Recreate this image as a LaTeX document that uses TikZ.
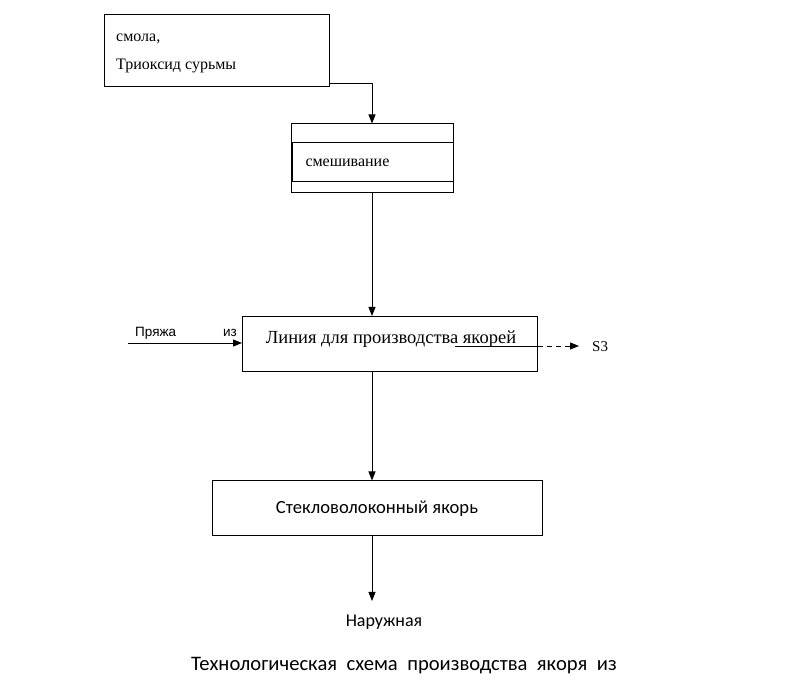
\documentclass[tikz,border=0pt]{standalone}
\usepackage{fontspec}
\setmainfont{Liberation Serif}
\newfontfamily\calib{Carlito}
\newfontfamily\arialf{Liberation Sans}
\usepackage{tikz}
\usetikzlibrary{positioning, calc, arrows.meta}

\tikzset{
  blk/.style={draw, line width=1pt, inner sep=0pt},
  flow/.style={line width=0.9pt, -{Triangle[length=9pt,width=7pt]}},
  lbl/.style={inner sep=0pt, anchor=base west}
}

\begin{document}
\begin{tikzpicture}[x=1pt, y=-1pt]
      \useasboundingbox (0,0) rectangle (812,692);
      % upper box: raw materials
      \node[blk, minimum width=225pt, minimum height=72pt] (resin) at (216.5,51) {};
      \node[lbl, font=\fontsize{16}{19}\selectfont] (resin1) at (116,42) {смола,};
      \node[lbl, font=\fontsize{16}{19}\selectfont] (resin2) at (116,70) {Триоксид сурьмы};
      % mixing
      \node[blk, minimum width=162pt, minimum height=69pt] (mix) at (372,158.5) {};
      \node[blk, minimum width=161pt, minimum height=39pt, anchor=west, align=left,
            inner xsep=13pt, text width=135pt, font=\fontsize{16}{19}\selectfont] (mixtxt) at (292,162.5) {смешивание};
      % line
      \node[blk, minimum width=295pt, minimum height=55pt] (line) at (390,344) {};
      \node[inner sep=0pt, anchor=base, font=\fontsize{18.5}{22}\selectfont] (linetxt) at (391,344) {Линия для производства якорей};
      % anchor
      \node[blk, minimum width=330pt, minimum height=55pt, font=\calib\fontsize{18.6}{22}\selectfont] (anchor) at (377,508.5) {Стекловолоконный якорь};
      \node[inner sep=0pt, font=\calib\fontsize{18}{21}\selectfont] (outer) at (384,622) {Наружная};
      \node[inner sep=0pt, font=\calib\fontsize{20.6}{24}\selectfont] (caption) at (404,666)
        {Технологическая\hspace{9.5pt}схема\hspace{9.5pt}производства\hspace{9.5pt}якоря\hspace{9.5pt}из};
      % side texts
      \node[lbl, font=\arialf\fontsize{13.5}{16}\selectfont] (yarn) at (135,337) {Пряжа};
      \node[lbl, font=\arialf\fontsize{13.5}{16}\selectfont] (from) at (223,337) {из};
      \node[lbl, font=\fontsize{15}{18}\selectfont] (s3) at (592,352) {S3};
      \coordinate (yarnin) at (128,343);
      \coordinate (s3from) at (455,346);
      \coordinate (s3to) at (579,346);
      \coordinate (outend) at (372,601);
      % connectors
      \draw[flow] ($(resin.south east)+(0,-4)$) -| (mix.north);
      \draw[flow] (mix.south) -- (mix.south |- line.north);
      \draw[flow] (mix.south |- line.south) -- (mix.south |- anchor.north);
      \draw[flow] (mix.south |- anchor.south) -- (outend);
      \draw[flow] (yarnin) -- (line.west |- yarnin);
      \draw[line width=0.9pt] (s3from) -- (line.east |- s3from);
      \draw[flow, dash pattern=on 5pt off 4pt] (line.east |- s3from) -- (s3to);
\end{tikzpicture}
\end{document}
